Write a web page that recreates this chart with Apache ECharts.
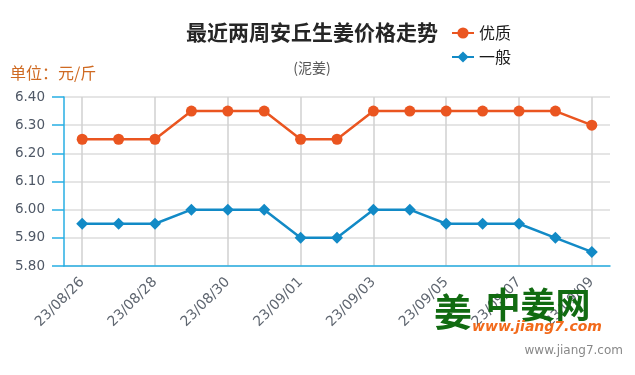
<!DOCTYPE html>
<html>
<head>
<meta charset="utf-8">
<script src="https://cdn.jsdelivr.net/npm/echarts@6/dist/echarts.min.js"></script>
<style>
html,body{margin:0;padding:0;background:#fff;}
#main{width:635px;height:375px;}
</style>
</head>
<body>
<div id="main"></div>
<script>
var categories = ['23/08/26','23/08/27','23/08/28','23/08/29','23/08/30','23/08/31','23/09/01','23/09/02','23/09/03','23/09/04','23/09/05','23/09/06','23/09/07','23/09/08','23/09/09'];
var premiumValues = [6.25,6.25,6.25,6.35,6.35,6.35,6.25,6.25,6.35,6.35,6.35,6.35,6.35,6.35,6.30];
var normalValues = [5.95,5.95,5.95,6.00,6.00,6.00,5.90,5.90,6.00,6.00,5.95,5.95,5.95,5.90,5.85];
var seriesNames = ['优质','一般'];
var titleText = '最近两周安丘生姜价格走势';
var subtitleText = '(泥姜)';
var unitText = '单位：元/斤';

var CJK = '"Noto Sans CJK SC", "DejaVu Sans", sans-serif';
var chart = echarts.init(document.getElementById('main'), null, {renderer:'canvas'});
var axisBlue = '#27aee3';
chart.setOption({
  animation:false,
  backgroundColor:'#fff',
  grid:{left:64, top:97, width:546, height:169, containLabel:false},
  legend:{
    orient:'vertical', left:446, top:20, itemWidth:22, itemHeight:14, itemGap:8,
    data:seriesNames,
    textStyle:{fontSize:16, color:'#1a1a1a', fontFamily:CJK}
  },
  xAxis:{
    type:'category', boundaryGap:true, data:categories,
    axisLine:{lineStyle:{color:axisBlue, width:1.5}},
    axisTick:{alignWithLabel:true, interval:1, length:12, lineStyle:{color:axisBlue, width:1.5}},
    axisLabel:{interval:1, rotate:45, margin:14, color:'#5f6670', fontSize:14, fontFamily:'"DejaVu Sans", sans-serif'},
    splitLine:{show:true, alignWithLabel:true, interval:1, lineStyle:{color:'#d0d0d0', width:1.5}}
  },
  yAxis:{
    type:'value', min:5.8, max:6.4, interval:0.1,
    axisLine:{show:true, lineStyle:{color:axisBlue, width:1.5}},
    axisTick:{show:true, length:12, lineStyle:{color:axisBlue, width:1.5}},
    axisLabel:{margin:19, color:'#4f5866', fontSize:13.5, fontFamily:'"DejaVu Sans", sans-serif',
      formatter:function(v){return v.toFixed(2);}},
    splitLine:{show:true, lineStyle:{color:'#dcdcdc', width:1.5}}
  },
  series:[
    {name:seriesNames[0], type:'line', data:premiumValues, symbol:'circle', symbolSize:11,
     itemStyle:{color:'#ea5520'}, lineStyle:{width:2.5, color:'#ea5520'}},
    {name:seriesNames[1], type:'line', data:normalValues, symbol:'diamond', symbolSize:12,
     itemStyle:{color:'#128ac6'}, lineStyle:{width:2.5, color:'#128ac6'}}
  ],
  graphic:[
    {type:'text', x:312, y:32, z:10, style:{text:titleText, fill:'#262626', font:'bold 21px '+CJK, textAlign:'center', textVerticalAlign:'middle'}},
    {type:'text', x:312, y:68, z:10, style:{text:subtitleText, fill:'#555', font:'14px '+CJK, textAlign:'center', textVerticalAlign:'middle'}},
    {type:'text', x:10, y:73, z:10, style:{text:unitText, fill:'#cf6a22', font:'16px '+CJK, textAlign:'left', textVerticalAlign:'middle'}},
    {type:'text', x:453, y:312, z:20, style:{text:'姜', fill:'#116b11', font:'bold 38px '+CJK, textAlign:'center', textVerticalAlign:'middle'}},
    {type:'text', x:538, y:305, z:20, style:{text:'中姜网', fill:'#116b11', font:'bold 35px '+CJK, textAlign:'center', textVerticalAlign:'middle'}},
    {type:'text', x:537, y:327, z:20, style:{text:'www.jiang7.com', fill:'#f26a1b', font:'italic bold 14px "DejaVu Sans", sans-serif', textAlign:'center', textVerticalAlign:'middle'}},
    {type:'text', x:623, y:351, z:20, style:{text:'www.jiang7.com', fill:'#888', font:'12px "DejaVu Sans", sans-serif', textAlign:'right', textVerticalAlign:'middle'}}
  ]
});
</script>
</body>
</html>
